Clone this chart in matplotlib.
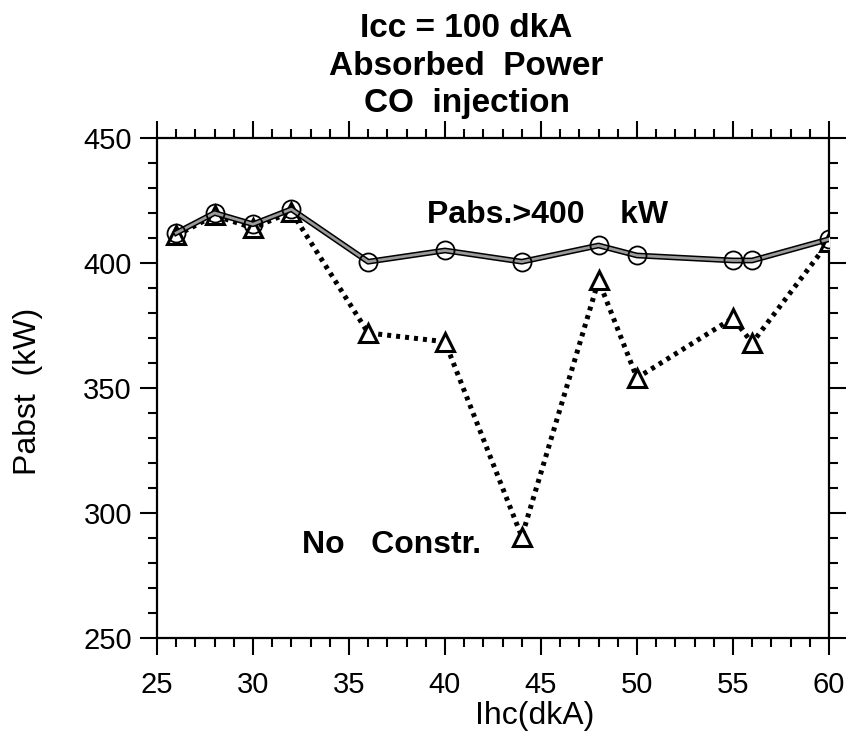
import matplotlib
matplotlib.use("Agg")
import matplotlib.pyplot as plt
from matplotlib.ticker import MultipleLocator

plt.rcParams['font.family'] = ['Liberation Sans', 'DejaVu Sans']

# Data
ihc = [26, 28, 30, 32, 36, 40, 44, 48, 50, 55, 56, 60]
pabs_constr = [412, 420, 415.5, 421.5, 400.5, 405, 400.5, 407, 403, 401, 401, 409.5]
pabs_free = [411, 419, 414, 420.5, 372, 368.5, 290.5, 393, 354, 378, 368, 408.5]

title_lines = ['Icc = 100 dkA', 'Absorbed  Power', 'CO  injection']

fig = plt.figure(figsize=(8.56, 7.39), dpi=100)
ax = fig.add_axes([0.1834, 0.1367, 0.785, 0.6766])

# No constraint: thick dotted line with open triangles
ax.plot(ihc, pabs_free, color='black', lw=3.6, linestyle=(0, (0.8, 1.0)), zorder=2)
ax.plot(ihc, pabs_free, linestyle='none', marker='^', ms=13, mfc='white',
        mec='black', mew=2.2, zorder=3)

# Pabs > 400 kW: gray line with black outline, open circles
ax.plot(ihc, pabs_constr, color='black', lw=4.2, zorder=4)
ax.plot(ihc, pabs_constr, color='#9a9a9a', lw=2.0, zorder=5)
ax.plot(ihc, pabs_constr, linestyle='none', marker='o', ms=13, mfc='none',
        mec='black', mew=1.3, zorder=6)

ax.set_xlim(25, 60)
ax.set_ylim(250, 450)
ax.xaxis.set_major_locator(MultipleLocator(5))
ax.xaxis.set_minor_locator(MultipleLocator(1))
ax.yaxis.set_major_locator(MultipleLocator(50))
ax.yaxis.set_minor_locator(MultipleLocator(10))
ax.tick_params(which='both', direction='out', top=True, right=True,
               width=1.5, labelsize=21, colors='black')
ax.tick_params(which='major', length=12)
ax.tick_params(which='minor', length=6.5)
ax.tick_params(axis='y', which='major', pad=6)
ax.tick_params(axis='x', which='major', pad=12)
for s in ax.spines.values():
    s.set_linewidth(1.6)

ax.set_xlabel('Ihc(dkA)', fontsize=23)
ax.xaxis.set_label_coords(0.5625, -0.126)
ax.set_ylabel('Pabst  (kW)', fontsize=23)
ax.yaxis.set_label_coords(-0.170, 0.494)

ax.text(51.6, 416, 'Pabs.>400    kW', fontsize=23, fontweight='bold',
        ha='right', va='baseline')
ax.text(32.55, 284, 'No   Constr.', fontsize=23, fontweight='bold',
        ha='left', va='baseline')

for txt, yb in zip(title_lines, [0.950, 0.8985, 0.8484]):
    fig.text(0.545, yb, txt, fontsize=24, fontweight='bold',
             ha='center', va='baseline')

fig.savefig('out.png', dpi=100)
